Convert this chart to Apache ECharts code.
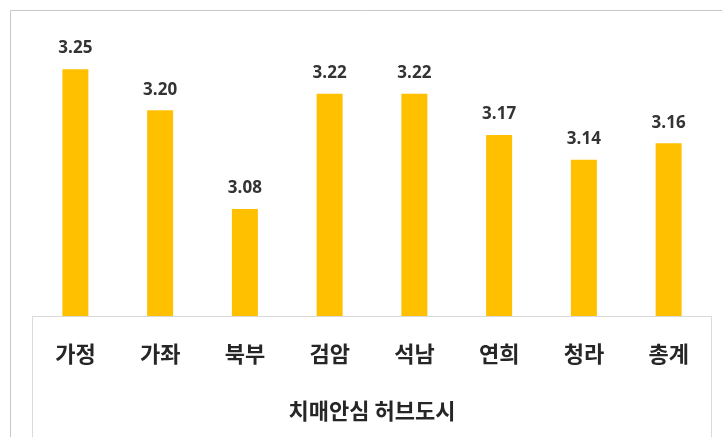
<!DOCTYPE html>
<html><head><meta charset="utf-8">
<script src="https://cdn.jsdelivr.net/npm/echarts@6/dist/echarts.min.js"></script>
<style>html,body{margin:0;padding:0;background:#fff}#c{width:722px;height:437px}</style>
</head><body><div id="c"></div>
<script>
const categories = ['가정','가좌','북부','검암','석남','연희','청라','총계'];
const values = [3.25, 3.20, 3.08, 3.22, 3.22, 3.17, 3.14, 3.16];
const axisTitle = '치매안심 허브도시';

const chart = echarts.init(document.getElementById('c'), null, {renderer:'canvas'});
chart.setOption({
  animation:false,
  backgroundColor:'#fff',
  grid:{left:33, right:11, top:28, bottom:121, containLabel:false},
  xAxis:{
    type:'category', data:categories,
    axisLine:{show:true, lineStyle:{color:'#d9d9d9', width:1}},
    axisTick:{show:false},
    axisLabel:{color:'#262626', fontSize:22, fontWeight:'bold', fontFamily:'Noto Sans CJK KR', margin:27},
    name:axisTitle, nameLocation:'middle', nameGap:84,
    nameTextStyle:{color:'#262626', fontSize:22, fontWeight:'bold', fontFamily:'Noto Sans CJK KR'}
  },
  yAxis:{type:'value', min:2.95, max:3.30, show:false, splitLine:{show:false}},
  series:[{
    type:'bar', data:values, barWidth:26,
    itemStyle:{color:'#FFC000'},
    label:{show:true, position:'top', distance:12, color:'#333', fontWeight:'bold',
      fontSize:17, fontFamily:'Open Sans', formatter:p=>p.value.toFixed(2)}
  }],
  graphic:[
    {type:'line', shape:{x1:10.5,y1:10.5,x2:722,y2:10.5}, style:{stroke:'#c8c8c8',lineWidth:1}, silent:true},
    {type:'line', shape:{x1:10.5,y1:10.5,x2:10.5,y2:437}, style:{stroke:'#c8c8c8',lineWidth:1}, silent:true},
    {type:'line', shape:{x1:32.5,y1:316,x2:32.5,y2:437}, style:{stroke:'#d9d9d9',lineWidth:1}, silent:true},
    {type:'line', shape:{x1:711.5,y1:316,x2:711.5,y2:437}, style:{stroke:'#d9d9d9',lineWidth:1}, silent:true}
  ]
});
</script></body></html>
